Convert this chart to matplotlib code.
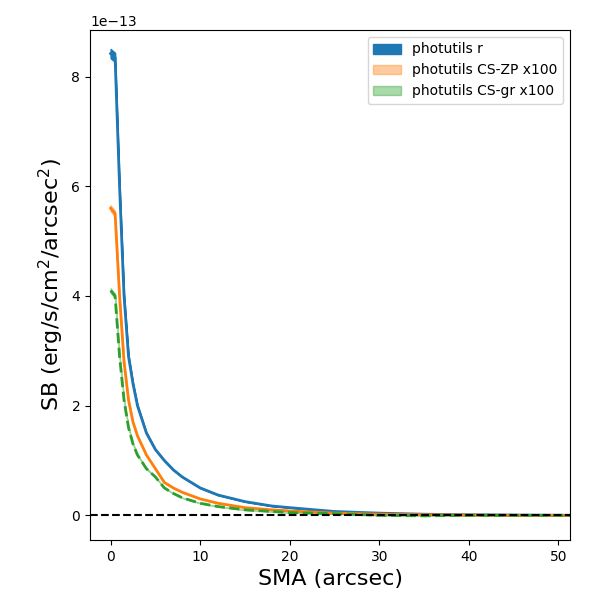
import numpy as np
import matplotlib
matplotlib.use("Agg")
import matplotlib.pyplot as plt

sma = [0.0, 0.5, 1.0, 1.5, 2.0, 2.5, 3.0, 4.0, 5.0, 6.0, 7.0, 8.0, 10.0, 12.0, 15.0, 18.0, 20.0, 25.0, 30.0, 35.0, 40.0, 45.0, 51.3]
sb_r = [8.42, 8.35, 6.0, 4.0, 2.9, 2.4, 2.0, 1.5, 1.2, 1.0, 0.83, 0.70, 0.50, 0.37, 0.25, 0.17, 0.14, 0.07, 0.04, 0.02, 0.01, 0.005, 0.0]
sb_zp = [5.6, 5.5, 4.0, 2.8, 2.1, 1.7, 1.45, 1.1, 0.85, 0.6, 0.5, 0.42, 0.30, 0.22, 0.14, 0.10, 0.08, 0.04, 0.02, 0.01, 0.005, 0.0, 0.0]
sb_gr = [4.1, 4.0, 2.9, 2.1, 1.6, 1.3, 1.1, 0.85, 0.70, 0.50, 0.40, 0.32, 0.22, 0.16, 0.10, 0.07, 0.05, 0.03, 0.0, -0.01, 0.0, 0.0, 0.0]

x = np.array(sma)
series = [
    (np.array(sb_r) * 1e-13, "tab:blue", "-", "photutils r", 1.0),
    (np.array(sb_zp) * 1e-13, "tab:orange", "-", "photutils CS-ZP x100", 0.4),
    (np.array(sb_gr) * 1e-13, "tab:green", "--", "photutils CS-gr x100", 0.4),
]

fig, ax = plt.subplots(figsize=(6, 6), dpi=100)
for y, c, ls, lab, a in series:
    ax.fill_between(x, y * 0.99, y * 1.01, color=c, alpha=a, label=lab)
    ax.plot(x, y, color=c, ls=ls, lw=2)
ax.axhline(0, color="k", ls="--", lw=1.5)
ax.set_xlim(-2.3, 51.3)
ax.set_ylim(-0.45e-13, 8.85e-13)
ax.set_xlabel("SMA (arcsec)", fontsize=16)
ax.set_ylabel(r"SB (erg/s/cm$^2$/arcsec$^2$)", fontsize=16)
ax.legend(loc="upper right")
fig.subplots_adjust(left=0.15, right=0.95, top=0.95, bottom=0.1)
fig.savefig("out.png")
